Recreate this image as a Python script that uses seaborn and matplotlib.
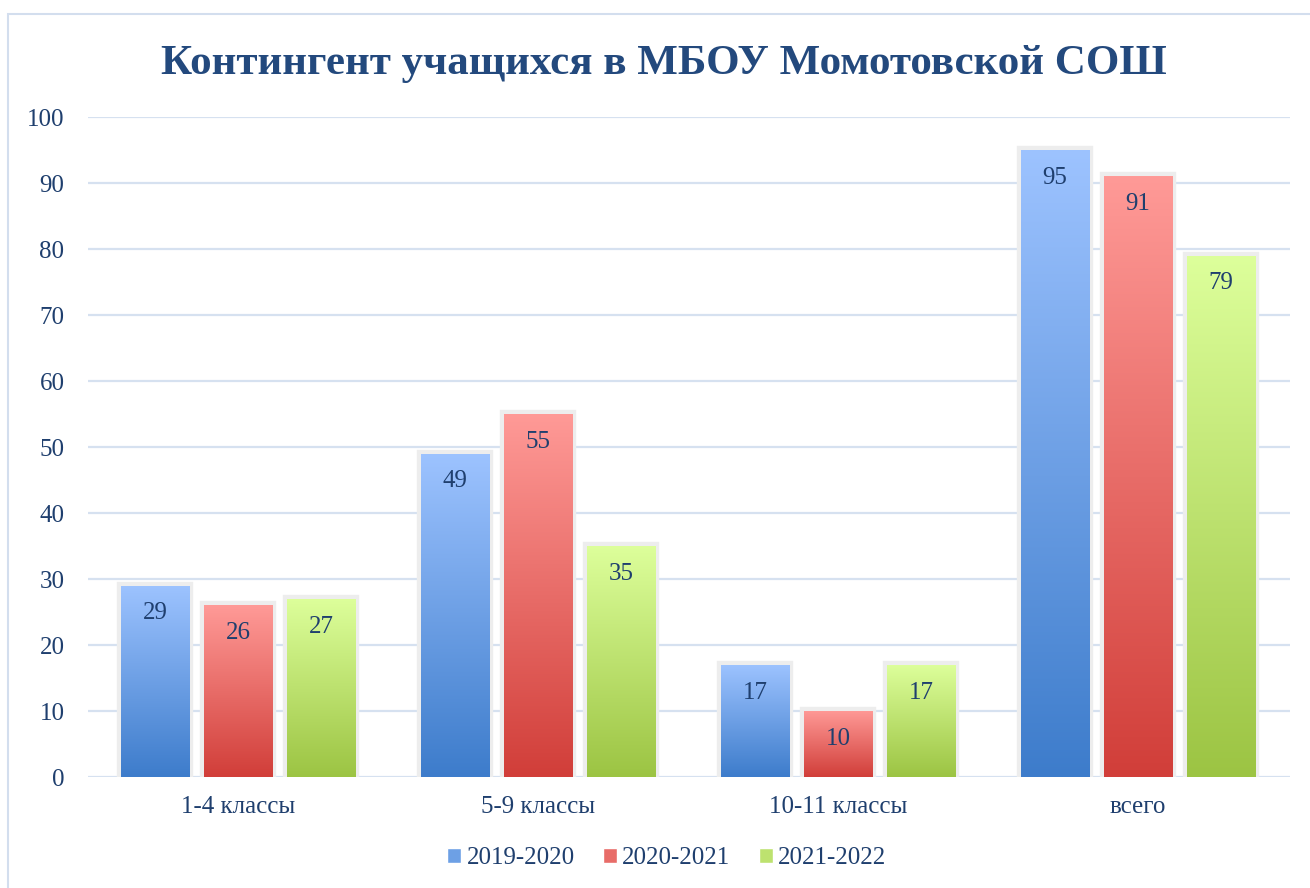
import numpy as np
import pandas as pd
import seaborn as sns
import matplotlib.pyplot as plt
import matplotlib.patheffects as pe
from matplotlib.colors import LinearSegmentedColormap
from matplotlib.patches import Rectangle

categories = ['1-4 классы', '5-9 классы', '10-11 классы', 'всего']
years = ['2019-2020', '2020-2021', '2021-2022']
values_2019 = [29, 49, 17, 95]
values_2020 = [26, 55, 10, 91]
values_2021 = [27, 35, 17, 79]

TOP_COLORS = ['#9DC3FF', '#FF9A97', '#DDFF9B']
BOTTOM_COLORS = ['#3D7CCB', '#D13E39', '#9CC443']
TEXT_COLOR = '#1F3F6E'
GRID_COLOR = '#D6E1F0'
FONT_SIZE = 18

df = pd.DataFrame({
    'category': categories * 3,
    'year': [y for y in years for _ in categories],
    'value': values_2019 + values_2020 + values_2021,
})

sns.set_style('white')
plt.rcParams['font.family'] = ['Liberation Serif', 'DejaVu Serif']

fig = plt.figure(figsize=(13.1, 8.88), dpi=100)
ax = fig.add_axes([88 / 1310, 1 - 777 / 888, (1290 - 88) / 1310, (777 - 117) / 888])

mid_colors = [LinearSegmentedColormap.from_list('m', [b, t])(0.5)
              for b, t in zip(BOTTOM_COLORS, TOP_COLORS)]
sns.barplot(data=df, x='category', y='value', hue='year', order=categories,
            hue_order=years, palette=mid_colors, width=0.83, gap=0.18,
            saturation=1, ax=ax, legend=False, zorder=3)

ax.set_xlim(-0.5, 3.507)
ax.set_ylim(0, 100)

# vertical gradient on every bar, with a soft grey halo
grad = np.linspace(0, 1, 256).reshape(-1, 1)
for i, container in enumerate(ax.containers):
    cmap = LinearSegmentedColormap.from_list('g', [BOTTOM_COLORS[i], TOP_COLORS[i]])
    for bar in container:
        x, w, h = bar.get_x(), bar.get_width(), bar.get_height()
        bar.set_edgecolor('none')
        bar.set_path_effects([pe.withStroke(linewidth=6, foreground='#EDEDED'),
                              pe.Normal()])
        im = ax.imshow(grad, cmap=cmap, origin='lower', aspect='auto',
                       extent=[x, x + w, 0, h], zorder=4)
        im.set_clip_path(bar)
        ax.annotate(f'{h:.0f}', (x + w / 2, h), xytext=(0, -20),
                    textcoords='offset points', ha='center', va='center',
                    fontsize=FONT_SIZE, color=TEXT_COLOR, zorder=5)

ax.set_yticks(range(0, 101, 10))
ax.grid(axis='y', color=GRID_COLOR, linewidth=1.6, zorder=0)
ax.grid(axis='x', visible=False)
sns.despine(ax=ax, left=True, bottom=True)
ax.tick_params(axis='y', length=0, pad=17, labelsize=FONT_SIZE, labelcolor=TEXT_COLOR)
ax.tick_params(axis='x', length=0, pad=14, labelsize=FONT_SIZE, labelcolor=TEXT_COLOR)
ax.set_xlabel('')
ax.set_ylabel('')

fig.text(664 / 1310, 1 - 64 / 888, 'Контингент учащихся в МБОУ Момотовской СОШ',
         ha='center', va='center', fontsize=31, fontweight='bold', color='#23497D')

handles = [Rectangle((0, 0), 1, 1, facecolor=c) for c in mid_colors]
fig.legend(handles, years, loc='center', bbox_to_anchor=(667 / 1310, 1 - 858 / 888),
           ncol=3, frameon=False, fontsize=FONT_SIZE, handlelength=0.56, handleheight=0.56,
           handletextpad=0.2, columnspacing=1.15, labelcolor=TEXT_COLOR)

fig.add_artist(Rectangle((8 / 1310, -0.02), 1.0, 0.984 + 0.02, transform=fig.transFigure,
                         fill=False, edgecolor='#D3DEEE', linewidth=1.5))

fig.savefig('out.png', dpi=100)
